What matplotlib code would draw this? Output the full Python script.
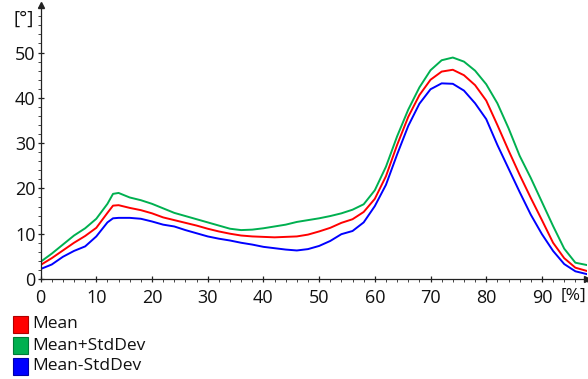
import matplotlib
matplotlib.use("Agg")
import matplotlib.pyplot as plt
from matplotlib.patches import Rectangle

plt.rcParams['font.family'] = ['Open Sans', 'DejaVu Sans']

# Gait cycle [%]
cycle = [0, 2, 4, 6, 8, 10, 12, 13, 14, 16, 18, 20, 22, 24, 26, 28, 30, 32, 34,
         36, 38, 40, 42, 44, 46, 48, 50, 52, 54, 56, 58, 60, 62, 64, 66, 68,
         70, 72, 74, 76, 78, 80, 82, 84, 86, 88, 90, 92, 94, 96, 98]

# Joint angle [°]
mean = [3.1, 4.6, 6.3, 8.0, 9.5, 11.3, 14.6, 16.2, 16.3, 15.7, 15.2, 14.5,
        13.6, 13.0, 12.4, 11.8, 11.1, 10.5, 10.0, 9.6, 9.4, 9.3, 9.2, 9.3,
        9.4, 9.8, 10.5, 11.3, 12.4, 13.2, 14.8, 17.7, 22.7, 29.6, 35.8, 40.6,
        44.0, 45.8, 46.2, 45.0, 42.8, 39.4, 34.0, 28.4, 23.0, 17.9, 13.0,
        8.0, 4.6, 2.5, 1.8]
mean_plus_sd = [3.8, 5.6, 7.6, 9.6, 11.2, 13.3, 16.6, 18.8, 19.0, 18.0, 17.4,
                16.6, 15.6, 14.6, 13.9, 13.2, 12.5, 11.8, 11.1, 10.8, 10.9,
                11.2, 11.6, 12.0, 12.6, 13.0, 13.4, 13.9, 14.5, 15.3, 16.5,
                19.6, 24.8, 31.5, 37.4, 42.3, 46.1, 48.3, 48.9, 48.0, 46.0,
                43.0, 38.8, 33.3, 27.2, 22.3, 17.0, 11.7, 6.7, 3.6, 3.1]
mean_minus_sd = [2.2, 3.2, 4.9, 6.2, 7.2, 9.4, 12.5, 13.4, 13.5, 13.5, 13.3,
                 12.7, 12.0, 11.6, 10.8, 10.1, 9.4, 8.9, 8.5, 8.0, 7.6, 7.1,
                 6.8, 6.5, 6.3, 6.6, 7.3, 8.4, 9.9, 10.6, 12.5, 16.1, 20.8,
                 27.5, 33.8, 38.7, 41.9, 43.2, 43.1, 41.6, 38.8, 35.3, 29.6,
                 24.4, 19.2, 14.2, 9.9, 6.2, 3.3, 1.7, 1.1]

series_labels = ["Mean", "Mean+StdDev", "Mean-StdDev"]
series_colors = ["#ff0000", "#00b050", "#0000ff"]
series_edges = ["#b00000", "#007a38", "#0000a8"]

W, H = 588, 379
fig = plt.figure(figsize=(W / 100, H / 100), dpi=100)

x0_px, x1_px = 40.6, 586.5
y0_px, y1_px = 279.0, 5.0
ax = fig.add_axes([x0_px / W, 1 - y0_px / H, (x1_px - x0_px) / W, (y0_px - y1_px) / H])

for vals, col in zip([mean_plus_sd, mean, mean_minus_sd], [series_colors[1], series_colors[0], series_colors[2]]):
    ax.plot(cycle, vals, color=col, lw=1.4, solid_joinstyle='round')

ax.set_xlim(0, 98)
ax.set_ylim(0, 60.5)

for s in ['top', 'right']:
    ax.spines[s].set_visible(False)
for s in ['left', 'bottom']:
    ax.spines[s].set_color('#222222')
    ax.spines[s].set_linewidth(0.9)

ax.set_xticks(range(0, 100, 10))
ax.set_xticklabels([str(v) for v in range(0, 100, 10)])
ax.set_yticks(range(0, 60, 10))
ax.set_xticks(range(0, 99, 2), minor=True)
ax.set_yticks(range(0, 61, 2), minor=True)
ax.tick_params(which='major', direction='inout', length=5, width=0.9,
               color='#222222', labelsize=13, labelcolor='#111111', pad=1)
ax.tick_params(which='minor', direction='out', length=2.5, width=0.7, color='#444444')
ax.tick_params(axis='x', which='major', pad=5)

# axis arrow heads
ax.plot([0], [60.5], marker='^', ms=4, color='#222222', clip_on=False)
ax.plot([98], [0], marker='>', ms=4, color='#222222', clip_on=False)

# unit labels
fig.text(24 / W, 1 - 19 / H, "[°]", ha='center', va='center', fontsize=13.5, color='#111111')
fig.text(586.5 / W, 1 - 296 / H, "[%]", ha='right', va='center', fontsize=12.5, color='#111111')

# legend block
rows_y = [324, 345.5, 366]
for lab, col, ec, yc in zip(series_labels, series_colors, series_edges, rows_y):
    fig.patches.append(Rectangle((12.7 / W, 1 - (yc + 8.5) / H), 15.6 / W, 17 / H,
                                 transform=fig.transFigure, facecolor=col,
                                 edgecolor=ec, linewidth=0.8))
    fig.text(32 / W, 1 - yc / H, lab, ha='left', va='center', fontsize=12.5, color='#111111')

fig.savefig("out.png", dpi=100)
